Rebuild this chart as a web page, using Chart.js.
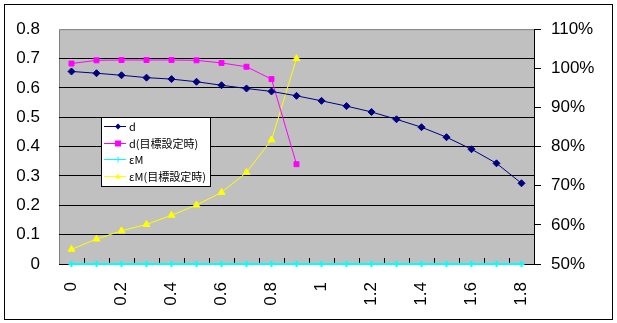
<!DOCTYPE html>
<html>
<head>
<meta charset="utf-8">
<script src="https://cdn.jsdelivr.net/npm/chart.js@4/dist/chart.umd.min.js"></script>
<style>
  body { margin: 0; background: #fff; }
  #wrap { width: 617px; height: 323px; }
</style>
</head>
<body>
<div id="wrap"><canvas id="myChart" width="617" height="323"></canvas></div>
<script>
const categories = ['0', '0.1', '0.2', '0.3', '0.4', '0.5', '0.6', '0.7', '0.8', '0.9',
  '1', '1.1', '1.2', '1.3', '1.4', '1.5', '1.6', '1.7', '1.8'];

const dValues = [0.656, 0.650, 0.643, 0.635, 0.630, 0.621, 0.609, 0.598, 0.588, 0.573,
  0.556, 0.538, 0.518, 0.493, 0.466, 0.432, 0.391, 0.343, 0.275];
const dTarget = [0.683, 0.694, 0.695, 0.695, 0.695, 0.694, 0.685, 0.672, 0.630, 0.340];
const eMValues = [0, 0, 0, 0, 0, 0, 0, 0, 0, 0, 0, 0, 0, 0, 0, 0, 0, 0, 0];
const eMTarget = [0.050, 0.085, 0.113, 0.135, 0.166, 0.201, 0.244, 0.312, 0.423, 0.700];

const leftTicks = [0, 0.1, 0.2, 0.3, 0.4, 0.5, 0.6, 0.7, 0.8];
const rightTicks = ['50%', '60%', '70%', '80%', '90%', '100%', '110%'];

const seriesNames = ['d', 'd(目標設定時)', 'εM', 'εM(目標設定時)'];

const plotBg = {
  id: 'plotBg',
  beforeDraw(chart) {
    const { ctx, chartArea: a } = chart;
    ctx.save();
    ctx.fillStyle = '#c0c0c0';
    ctx.fillRect(a.left, a.top, a.right - a.left, a.bottom - a.top);
    ctx.strokeStyle = '#808080';
    ctx.lineWidth = 1;
    ctx.beginPath();
    ctx.moveTo(a.left + 0.5, a.bottom);
    ctx.lineTo(a.left + 0.5, a.top + 0.5);
    ctx.lineTo(a.right, a.top + 0.5);
    ctx.stroke();
    ctx.restore();
  }
};

// inside tick marks on the category axis, like the original
const innerTicks = {
  id: 'innerTicks',
  beforeDatasetsDraw(chart) {
    const { ctx, chartArea: a } = chart;
    const xs = chart.scales.x;
    ctx.save();
    ctx.strokeStyle = '#000';
    ctx.lineWidth = 1;
    ctx.beginPath();
    for (let i = 1; i < categories.length; i++) {
      const px = Math.round((xs.getPixelForTick(i - 1) + xs.getPixelForTick(i)) / 2) + 0.5;
      ctx.moveTo(px, a.bottom - 6);
      ctx.lineTo(px, a.bottom);
    }
    ctx.stroke();
    ctx.restore();
  }
};

const drawMarker = (ctx, style, x, y, r, color) => {
  ctx.fillStyle = color;
  ctx.strokeStyle = color;
  ctx.beginPath();
  if (style === 'rectRot') {
    ctx.moveTo(x, y - r); ctx.lineTo(x + r, y); ctx.lineTo(x, y + r); ctx.lineTo(x - r, y);
    ctx.closePath(); ctx.fill();
  } else if (style === 'rect') {
    ctx.fillRect(x - r, y - r, r * 2, r * 2);
  } else if (style === 'triangle') {
    ctx.moveTo(x, y - r); ctx.lineTo(x + r, y + r * 0.7); ctx.lineTo(x - r, y + r * 0.7);
    ctx.closePath(); ctx.fill();
  } else {
    ctx.moveTo(x - r, y); ctx.lineTo(x + r, y);
    ctx.moveTo(x, y - r); ctx.lineTo(x, y + r);
    ctx.stroke();
  }
};

const boxLegend = {
  id: 'boxLegend',
  afterDraw(chart) {
    const { ctx } = chart;
    ctx.save();
    ctx.fillStyle = '#fff';
    ctx.fillRect(101, 117, 109, 69);
    ctx.strokeStyle = '#000';
    ctx.lineWidth = 1;
    ctx.strokeRect(101.5, 117.5, 109, 69);
    chart.data.datasets.forEach((ds, i) => {
      const y = Math.round(126 + i * 16.5) + 0.5;
      ctx.strokeStyle = ds.borderColor;
      ctx.lineWidth = 1;
      ctx.beginPath();
      ctx.moveTo(104, y);
      ctx.lineTo(126, y);
      ctx.stroke();
      drawMarker(ctx, ds.pointStyle, 118, y, 3, ds.borderColor);
      ctx.fillStyle = '#000';
      ctx.font = '11px "Noto Sans CJK JP"';
      ctx.textBaseline = 'middle';
      ctx.fillText(ds.label, 129, y);
    });
    // outer frame
    ctx.strokeStyle = '#000';
    ctx.strokeRect(4.5, 4.5, 608, 315);
    ctx.restore();
  }
};

const axisFont = { family: '"Liberation Sans", Arial, sans-serif', size: 17 };

const ctx = document.getElementById('myChart').getContext('2d');

const myChart = new Chart(ctx, {
  type: 'line',
  data: {
    labels: categories,
    datasets: [
      {
        label: seriesNames[0],
        data: dValues,
        borderColor: '#000080',
        backgroundColor: '#000080',
        borderWidth: 1,
        pointStyle: 'rectRot',
        pointRadius: 3.5,
        yAxisID: 'y'
      },
      {
        label: seriesNames[1],
        data: dTarget,
        borderColor: '#ff00ff',
        backgroundColor: '#ff00ff',
        borderWidth: 1,
        pointStyle: 'rect',
        pointRadius: 3.5,
        yAxisID: 'y'
      },
      {
        label: seriesNames[2],
        data: eMValues,
        borderColor: '#00ffff',
        backgroundColor: '#00ffff',
        borderWidth: 2,
        pointStyle: 'cross',
        pointRadius: 3,
        clip: 6,
        yAxisID: 'y'
      },
      {
        label: seriesNames[3],
        data: eMTarget,
        borderColor: '#ffff00',
        backgroundColor: '#ffff00',
        borderWidth: 1,
        pointStyle: 'triangle',
        pointRadius: 4,
        yAxisID: 'y'
      }
    ]
  },
  options: {
    responsive: false,
    animation: false,
    devicePixelRatio: 1,
    layout: { padding: { top: 29, left: 0, right: 0, bottom: 0 } },
    plugins: {
      legend: { display: false },
      tooltip: { enabled: false }
    },
    scales: {
      x: {
        type: 'category',
        offset: true,
        afterFit: (s) => { s.height = 59; },
        grid: { display: true, drawOnChartArea: false, drawTicks: false },
        border: { display: true, color: '#000', width: 1 },
        ticks: {
          autoSkip: false,
          minRotation: 90,
          maxRotation: 90,
          padding: 18,
          color: '#000',
          font: axisFont,
          callback: (v, i) => (i % 2 === 0 ? categories[i] : '')
        }
      },
      y: {
        position: 'left',
        min: 0,
        max: 0.8,
        afterFit: (s) => { s.width = 59; },
        afterBuildTicks: (s) => { s.ticks = leftTicks.map((v) => ({ value: v })); },
        grid: {
          drawTicks: false,
          color: (c) => (c.tick && c.tick.value === 0.8 ? 'rgba(0,0,0,0)' : '#000'),
          lineWidth: 1
        },
        border: { display: false },
        ticks: {
          padding: 19,
          color: '#000',
          font: axisFont,
          callback: (v) => String(v)
        }
      },
      y2: {
        position: 'right',
        min: 50,
        max: 110,
        afterFit: (s) => { s.width = 83; },
        afterBuildTicks: (s) => {
          s.ticks = rightTicks.map((t) => ({ value: parseFloat(t) }));
        },
        grid: { drawOnChartArea: false, drawTicks: true, tickLength: 7, color: '#000' },
        border: { display: true, color: '#000', width: 1 },
        ticks: {
          padding: 10,
          color: '#000',
          font: axisFont,
          callback: (v, i) => rightTicks[i]
        }
      }
    }
  },
  plugins: [plotBg, innerTicks, boxLegend]
});
</script>
</body>
</html>
